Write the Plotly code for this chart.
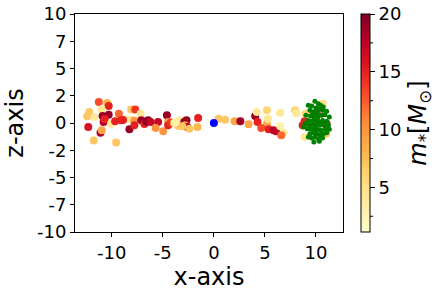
import plotly.graph_objects as go

# colored stars: x, z, mass
star_x = [-12.4, -12.2, -11.7, -12.3, -11.76, -11.27, -10.46, -10.3, -11.0, -10.9,
          -10.3, -10.8, -10.7, -11.1, -10.98, -10.07, -9.67, -9.57, -9.3, -9.08,
          -8.6, -8.1, -7.7, -7.18, -8.0, -7.8, -8.27, -7.78, -7.1, -6.8,
          -6.6, -6.44, -6.2, -5.46, -5.7, -4.96, -4.6, -4.47, -4.47, -4.2,
          -3.9, -3.5, -3.5, -3.33, -2.9, -2.68, -2.8, -2.58, -3.1, -2.4,
          -1.54, -1.6, 0.46, 1.1, 2.03, 2.6, 3.4, 4.05, 4.2, 4.28,
          5.2, 5.2, 5.3, 4.64, 5.36, 5.85, 6.1, 6.5, 6.5, 6.83,
          6.6, 7.94, 8.9, 8.7, 8.9, 10.07, 10.66, 11.05, 11.0, 9.0,
          -8.9, -3.8, 8.1]
star_z = [0.61, 1.0, 0.55, -0.37, -1.6, 1.93, 1.83, 1.56, 1.25, 0.64,
          0.76, 0.09, 0.35, -0.89, -0.67, -0.06, 0.15, -1.8, 0.85, 0.25,
          0.35, 1.25, 1.25, 0.85, 0.3, 0.2, -0.58, -0.21, 0.25, -0.1,
          0.12, 0.25, 0.1, 0.09, -0.46, -0.76, 0.7, 0.09, -0.21, 0.05,
          0.0, 0.1, -0.25, 0.25, 0.09, 0.25, -0.2, -0.37, -0.3, -0.52,
          0.46, -0.37, 0.39, 0.3, 0.15, 0.15, -0.12, 0.64, 1.0, 0.09,
          1.16, -0.06, 0.4, -0.46, -0.58, -0.67, -0.76, 0.95, -0.3, -0.89,
          -1.13, 1.16, 0.15, -0.21, -1.28, 1.0, 1.77, -0.06, -0.98, 0.85,
          0.27, 0.03, 0.9]
star_m = [7, 7, 4, 16, 7, 13, 8, 15, 4, 19,
          19, 18, 15, 18, 9, 4, 15, 7, 12, 15,
          4, 7, 14, 4, 4, 10, 19, 15, 19, 15,
          19, 19, 17, 17, 10, 10, 19, 10, 15, 14,
          7, 4, 7, 4, 19, 19, 10, 18, 7, 7,
          15, 8, 7, 7, 9, 19, 9, 19, 4, 15,
          6, 9, 4, 13, 15, 17.5, 17.5, 4, 3, 4,
          12, 6, 15, 15, 4, 15, 5, 15, 7, 6,
          15, 3, 4]

# green cluster
cl_x = [9.90, 9.25, 9.58, 10.23, 10.46, 10.72, 10.0, 10.33, 10.65, 11.05,
        9.41, 9.74, 10.07, 9.02, 9.48, 9.80, 10.23, 10.56, 10.88, 11.31,
        9.25, 9.58, 9.90, 10.23, 10.65, 11.05, 8.92, 9.35, 9.67, 10.0,
        10.39, 10.78, 11.21, 9.15, 9.48, 9.80, 10.13, 10.46, 10.88, 11.31,
        8.76, 9.41, 9.74, 10.07, 10.39, 10.72, 11.05, 9.25, 9.58, 9.90,
        10.23, 10.65, 9.80, 10.33, 10.56, 10.0, 9.67, 10.13, 10.46, 9.58]
cl_z = [1.99, 1.62, 1.56, 1.77, 1.62, 1.47, 1.38, 1.31, 1.16, 1.07,
        1.16, 1.01, 0.95, 0.70, 0.64, 0.55, 0.64, 0.70, 0.76, 0.55,
        0.24, 0.15, 0.24, 0.15, 0.24, 0.15, -0.06, -0.15, -0.21, -0.15,
        -0.21, -0.15, -0.21, -0.52, -0.58, -0.52, -0.58, -0.67, -0.52, -0.58,
        -0.37, -0.98, -0.89, -0.98, -1.07, -0.98, -0.89, -1.28, -1.38, -1.28,
        -1.44, -1.38, -1.74, -1.68, -1.13, -0.67, 0.86, 0.40, 0.03, -0.37]

center_x = [0.0]
center_z = [0.0]

c_min, c_max = 1.14, 20
cb_tickvals = [5, 10, 15, 20]
cb_ticktext = ["5", "10", "15", "20"]
cb_minor = [2.5, 7.5, 12.5, 17.5]
y_tickvals = [-10, -7.5, -5, -2.5, 0, 2.5, 5, 7.5, 10]
y_ticktext = ["-10", "-7", "-5", "-2", "0", "2", "5", "7", "10"]
x_tickvals = [-10, -5, 0, 5, 10]
x_ticktext = ["-10", "-5", "0", "5", "10"]

ylorrd = [[0.0, "#ffffcc"], [0.125, "#ffeda0"], [0.25, "#fed976"], [0.375, "#feb24c"],
          [0.5, "#fd8d3c"], [0.625, "#fc4e2a"], [0.75, "#e31a1c"], [0.875, "#bd0026"],
          [1.0, "#800026"]]

FONT = "DejaVu Sans"
W, H = 441, 293
ML, MR, MT, MB = 75, 98, 14, 61
PW = W - ML - MR
CB_LEFT_PX = 361
CB_THICK = 9
cb_x = (CB_LEFT_PX - ML) / PW
cb_right = (CB_LEFT_PX + CB_THICK - ML) / PW

fig = go.Figure()
fig.add_trace(go.Scatter(
    x=star_x, y=star_z, mode="markers",
    marker=dict(size=8, color=star_m, colorscale=ylorrd, cmin=c_min, cmax=c_max,
                line=dict(width=0),
                colorbar=dict(
                    x=cb_x, xanchor="left", xpad=0, y=0.5, yanchor="middle", ypad=0,
                    len=1, lenmode="fraction", thickness=CB_THICK,
                    outlinewidth=1, outlinecolor="black",
                    tickvals=cb_tickvals, ticktext=cb_ticktext,
                    ticks="outside", ticklen=5, tickcolor="black",
                    tickfont=dict(family=FONT, size=18, color="black"),
                    title=dict(text="<i>m</i><sub>*</sub>[<i>M</i><sub>⊙</sub>]",
                               side="right",
                               font=dict(family=FONT, size=24, color="black")),
                )),
    showlegend=False,
))
fig.add_trace(go.Scatter(
    x=cl_x, y=cl_z, mode="markers",
    marker=dict(size=5, color="green", line=dict(width=0)),
    showlegend=False,
))
fig.add_trace(go.Scatter(
    x=center_x, y=center_z, mode="markers",
    marker=dict(size=8, color="blue", line=dict(width=0)),
    showlegend=False,
))

# minor ticks on the colorbar
for v in cb_minor:
    yy = (v - c_min) / (c_max - c_min)
    fig.add_shape(type="line", xref="paper", yref="paper",
                  x0=cb_right, x1=cb_right + 3 / PW, y0=yy, y1=yy,
                  line=dict(color="black", width=1))

axis_common = dict(
    showline=True, mirror=True, linecolor="black", linewidth=1,
    ticks="outside", ticklen=4, tickcolor="black",
    showgrid=False, zeroline=False, automargin=False,
    tickfont=dict(family=FONT, size=18, color="black"),
)

fig.update_layout(
    width=W, height=H,
    margin=dict(l=ML, r=MR, t=MT, b=MB, autoexpand=False),
    paper_bgcolor="white", plot_bgcolor="white",
    font=dict(family=FONT, color="black"),
    xaxis=dict(range=[-13.6, 12.65], tickvals=x_tickvals, ticktext=x_ticktext,
               title=dict(text="x-axis", font=dict(family=FONT, size=24, color="black"),
                          standoff=2),
               **axis_common),
    yaxis=dict(range=[-10, 10], tickvals=y_tickvals, ticktext=y_ticktext,
               title=dict(text="z-axis", font=dict(family=FONT, size=24, color="black"),
                          standoff=6),
               **axis_common),
)

fig.write_html("out.html", config={"displayModeBar": False},
               post_script="document.body.style.margin='0';document.body.style.overflow='hidden';")
